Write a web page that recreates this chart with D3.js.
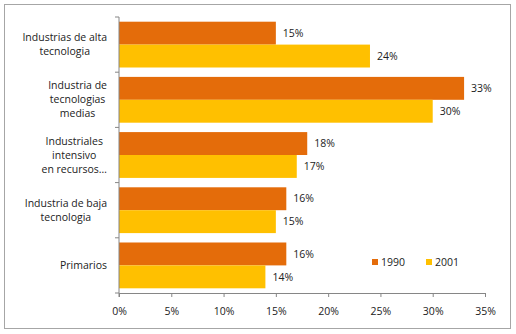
<!DOCTYPE html>
<html><head><meta charset="utf-8">
<script src="https://cdn.jsdelivr.net/npm/d3@7"></script>
<style>body{margin:0;background:#fff}svg{display:block}text{font-family:"Open Sans","Noto Sans",sans-serif;fill:#222}</style>
</head><body><svg id="c" width="516" height="334"></svg>
<script>
const categories = [
  ["Industrias de alta","tecnologia"],
  ["Industria de","tecnologias","medias"],
  ["Industriales","intensivo","en recursos…"],
  ["Industria de baja","tecnologia"],
  ["Primarios"]
];
const seriesNames = ["1990","2001"];
const values1990 = [0.15,0.33,0.18,0.16,0.16];
const values2001 = [0.24,0.30,0.17,0.15,0.14];
const xTicks = [0,0.05,0.10,0.15,0.20,0.25,0.30,0.35];
const colors = ["#E46C0A","#FFC000"];

const svg = d3.select("#c");
svg.append("rect").attr("x",4.5).attr("y",4.5).attr("width",506).attr("height",324)
  .attr("fill","#fff").attr("stroke","#a6a6a6").attr("stroke-width",1);

const L=119, R=485, T=17, B=293;
const x = d3.scaleLinear().domain([0,0.35]).range([L,R]);
const y = d3.scaleBand().domain(d3.range(categories.length)).range([T,B]).paddingInner(0).paddingOuter(0);
const inner = d3.scaleBand().domain([0,1]).range([0,y.bandwidth()]).paddingOuter(0.205).paddingInner(0);
const series=[values1990,values2001];

const g=svg.append("g");
series.forEach((vals,si)=>{
  g.selectAll(null).data(vals).enter().append("rect")
    .attr("x",x(0)).attr("y",(d,i)=>y(i)+inner(si))
    .attr("width",d=>x(d)-x(0)).attr("height",inner.bandwidth())
    .attr("fill",colors[si]);
  g.selectAll(null).data(vals).enter().append("text")
    .attr("x",d=>x(d)+7).attr("y",(d,i)=>y(i)+inner(si)+inner.bandwidth()/2)
    .attr("dy","0.35em").attr("font-size",10.5)
    .text(d=>Math.round(d*100)+"%");
});

// axes
const xa = svg.append("g").attr("transform",`translate(0,${B})`)
  .call(d3.axisBottom(x).tickValues(xTicks).tickSize(4).tickSizeOuter(0).tickFormat(d=>Math.round(d*100)+"%"));
xa.select(".domain").attr("stroke","#868686");
xa.selectAll(".tick line").attr("stroke","#868686");
xa.selectAll(".tick text").attr("font-size",10.5).attr("y",15).attr("fill","#222").attr("font-family","Open Sans");

const ya = svg.append("g").attr("transform",`translate(${L},0)`);
ya.append("line").attr("x1",0).attr("x2",0).attr("y1",T).attr("y2",B+4).attr("stroke","#868686");
d3.range(categories.length+1).forEach(i=>{
  const yy = i<categories.length ? y(i) : B;
  ya.append("line").attr("x1",-4).attr("x2",0).attr("y1",yy).attr("y2",yy).attr("stroke","#868686");
});

categories.forEach((lines,i)=>{
  const cy = y(i)+y.bandwidth()/2;
  const lh=14;
  const t = svg.append("text").attr("font-size",10.5).attr("text-anchor","middle");
  const spans = lines.map((ln,j)=>t.append("tspan").attr("y",cy+(j-(lines.length-1)/2)*lh).attr("dy","0.35em").text(ln));
  let w=0; spans.forEach(s=>{w=Math.max(w,s.node().getComputedTextLength());});
  const cx = 107 - w/2;
  spans.forEach(s=>s.attr("x",cx));
});

// legend
const leg=svg.append("g");
const lx=[372,426];
seriesNames.forEach((n,i)=>{
  leg.append("rect").attr("x",lx[i]).attr("y",259).attr("width",6).attr("height",6).attr("fill",colors[i]);
  leg.append("text").attr("x",lx[i]+9).attr("y",262).attr("dy","0.35em").attr("font-size",10.5).text(n);
});
</script></body></html>
